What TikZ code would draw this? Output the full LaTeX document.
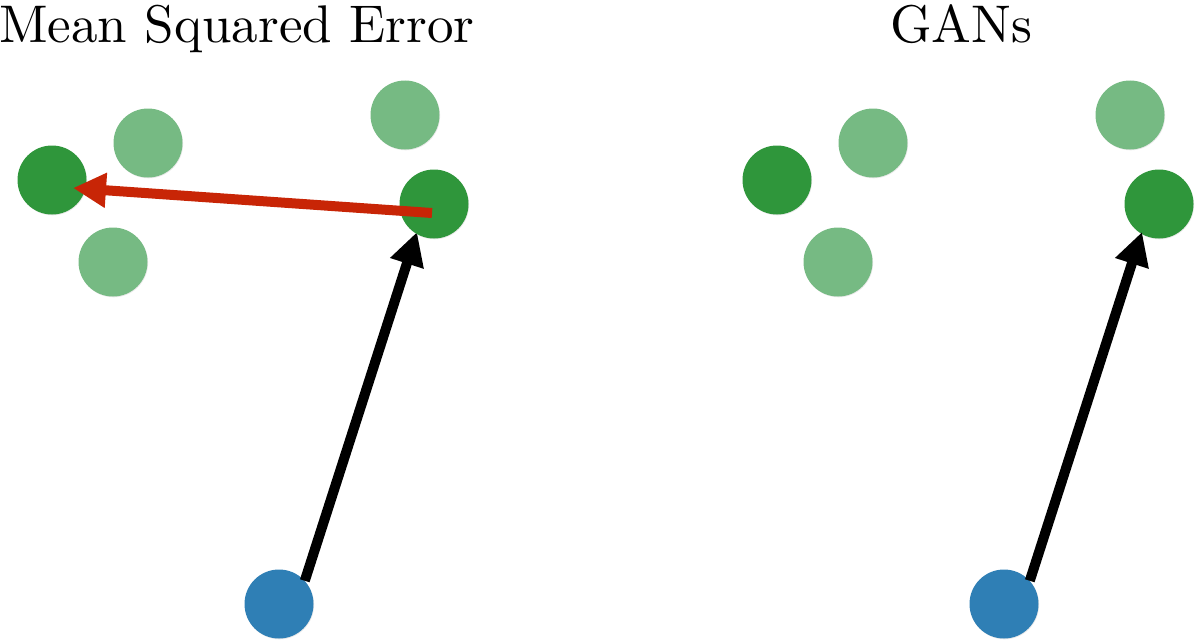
\documentclass[tikz,border=0pt]{standalone}
\usetikzlibrary{arrows.meta}
\definecolor{dkgreen}{HTML}{2F963B}
\definecolor{ltgreen}{HTML}{76BA83}
\definecolor{ptblue}{HTML}{2F7FB5}
\definecolor{arrred}{HTML}{C82506}
\begin{document}
\begin{tikzpicture}[x=1pt,y=-1pt,
  dot/.style={circle,inner sep=0pt,minimum size=69pt,fill=#1,
    preaction={fill=black!25,opacity=0.35,transform canvas={shift={(0.6pt,-0.8pt)}},circle,minimum size=71pt}},
  arr/.style={line width=10pt,-{Triangle[length=33pt,width=33pt]}},
  title/.style={anchor=base,inner sep=0pt}]
\useasboundingbox (0,0) rectangle (1197,642);
% titles
\node[title,anchor=base west] (t1) at (-1,43) {\scalebox{5.3}{Mean Squared Error}};
\node[title] (t2) at (961,43) {\scalebox{5.3}{GANs}};
% left panel
\node[dot=dkgreen] (a) at (52,180) {};
\node[dot=ltgreen] (b) at (148,143) {};
\node[dot=ltgreen] (c) at (113,262) {};
\node[dot=ltgreen] (d) at (405,115) {};
\node[dot=ptblue] (p) at (279,604) {};
\draw[arr,black] (p.42) -- (417,232) coordinate (etip);
\node[dot=dkgreen] (e) at (434,204) {};
\coordinate (rtail) at (432,213);
\coordinate (rtip) at (73,188);
\draw[arr,arrred] (rtail) -- (rtip);
% right panel
\node[dot=dkgreen] (f) at (777,180) {};
\node[dot=ltgreen] (g) at (873,143) {};
\node[dot=ltgreen] (h) at (838,262) {};
\node[dot=ltgreen] (i) at (1130,115) {};
\node[dot=dkgreen] (j) at (1159,204) {};
\node[dot=ptblue] (q) at (1004,604) {};
\draw[arr,black] (q.42) -- (1142,232) coordinate (jtip);
\end{tikzpicture}
\end{document}
